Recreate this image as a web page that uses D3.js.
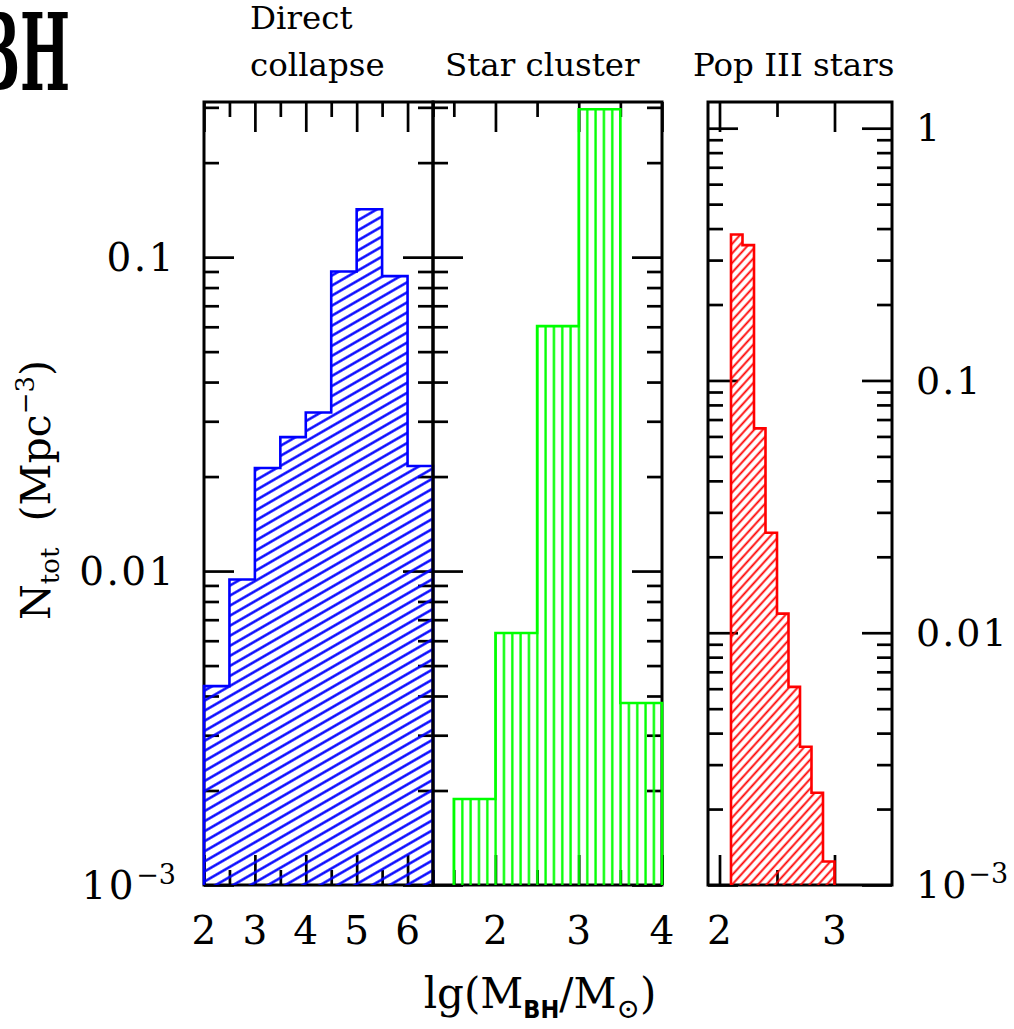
<!DOCTYPE html>
<html>
<head>
<meta charset="utf-8">
<script src="https://cdn.jsdelivr.net/npm/d3@7"></script>
<style>
  body { margin: 0; background: #fff; }
  text { font-family: "DejaVu Serif", serif; fill: #000; }
</style>
</head>
<body>
<svg id="chart" width="1014" height="1029"></svg>
<script>
// bin lower edges (lg M) and number densities (Mpc^-3)
const dcBins = [2, 2.5, 3, 3.5, 4, 4.5, 5, 5.5, 6]
const dcValues = [0.0043, 0.0094, 0.0213, 0.0267, 0.032, 0.090, 0.142, 0.087, 0.0216]
const scBins = [1.5, 2, 2.5, 3, 3.5]
const scValues = [0.00188, 0.00635, 0.0603, 0.296, 0.0038]
const p3Bins = [2.1, 2.2, 2.3, 2.4, 2.5, 2.6, 2.7, 2.8, 2.9]
const p3Values = [0.379, 0.344, 0.0646, 0.0249, 0.0119, 0.0061, 0.00353, 0.00232, 0.00124]

const panelTitles = [['Direct', 'collapse'], ['Star cluster'], ['Pop III stars']]
const leftLabels = [0.1, 0.01, 0.001]
const rightLabels = [1, 0.1, 0.01, 0.001]
const dcTickLabels = [2, 3, 4, 5, 6]
const scTickLabels = [2, 3, 4]
const p3TickLabels = [2, 3]

const svg = d3.select('#chart')
const base = 885, topY = 102
const yL = d3.scaleLog().domain([1e-3, 0.312]).range([base, topY])
const yR = d3.scaleLog().domain([1e-3, 1.27]).range([base, topY])

const defs = svg.append('defs')
const hatch = (id, color, spacing, angle, width) => {
  const p = defs.append('pattern').attr('id', id)
    .attr('patternUnits', 'userSpaceOnUse')
    .attr('width', 40).attr('height', spacing)
    .attr('patternTransform', `rotate(${angle})`)
  p.append('line')
    .attr('x1', 0).attr('x2', 40).attr('y1', spacing / 2).attr('y2', spacing / 2)
    .attr('stroke', color).attr('stroke-width', width)
}
hatch('hatch-blue', '#0000ff', 8.7, -30, 2.2)
hatch('hatch-red', '#ff0000', 6.4, -48, 2)
hatch('hatch-green', '#00ff00', 8.33, 90, 2.3)

const panels = [
  {x: d3.scaleLinear().domain([2, 6.5]).range([204, 433]), y: yL, bins: dcBins, values: dcValues,
    w: 0.5, color: '#0000ff', fill: 'hatch-blue', major: d3.range(2, 7, 1), minor: d3.range(2.5, 7, 1), labels: dcTickLabels},
  {x: d3.scaleLinear().domain([1.25, 4]).range([433, 662]), y: yL, bins: scBins, values: scValues,
    w: 0.5, color: '#00ff00', fill: 'hatch-green', major: [2, 3, 4], minor: [1.5, 2.5, 3.5], labels: scTickLabels},
  {x: d3.scaleLinear().domain([1.9, 3.5]).range([708, 892]), y: yR, bins: p3Bins, values: p3Values,
    w: 0.1, color: '#ff0000', fill: 'hatch-red', major: [2, 3], minor: [2.5], labels: p3TickLabels}
]

const isDecade = v => Math.abs(Math.log10(v) - Math.round(Math.log10(v))) < 1e-6

const tickGroup = (axis, tx, ty) => {
  const g = svg.append('g').attr('transform', `translate(${tx},${ty})`).call(axis)
  g.select('.domain').remove()
  g.selectAll('line').attr('stroke', '#000').attr('stroke-width', 2.7)
}

panels.forEach(p => {
  const [x0, x1] = p.x.range()
  const yMajor = p.y.ticks().filter(isDecade)
  const yMinor = p.y.ticks().filter(v => !isDecade(v))

  // y ticks on both sides, pointing inward
  ;[[yMajor, 30], [yMinor, 15]].forEach(([vals, len]) => {
    tickGroup(d3.axisLeft(p.y).tickValues(vals).tickSize(-len).tickFormat(''), x0, 0)
    tickGroup(d3.axisRight(p.y).tickValues(vals).tickSize(-len).tickFormat(''), x1, 0)
  })
  // x ticks top and bottom
  ;[[p.major, 30], [p.minor, 15]].forEach(([vals, len]) => {
    tickGroup(d3.axisTop(p.x).tickValues(vals).tickSize(-len).tickFormat(''), 0, topY)
    tickGroup(d3.axisBottom(p.x).tickValues(vals).tickSize(-len).tickFormat(''), 0, base)
  })

  svg.append('rect').attr('x', x0).attr('y', topY).attr('width', x1 - x0).attr('height', base - topY)
    .attr('fill', 'none').attr('stroke', '#000').attr('stroke-width', 3)

  // stepped histogram outline
  const pts = [[p.x(p.bins[0]), base]]
  p.bins.forEach((b, i) => {
    pts.push([p.x(b), p.y(p.values[i])], [p.x(b + p.w), p.y(p.values[i])])
  })
  pts.push([p.x(p.bins[p.bins.length - 1] + p.w), base])
  const line = d3.line()
  svg.append('path').attr('d', line(pts) + 'Z').attr('fill', `url(#${p.fill})`).attr('stroke', 'none')
  svg.append('path').attr('d', line(pts)).attr('fill', 'none')
    .attr('stroke', p.color).attr('stroke-width', 2.6).attr('stroke-linejoin', 'miter')

  svg.append('g').selectAll('text').data(p.labels).join('text')
    .attr('x', d => p.x(d)).attr('y', 930).attr('dy', '0.35em')
    .attr('text-anchor', 'middle').attr('font-size', 39).text(d => d)
})

// y tick labels
const yLabel = (g, v) => {
  if (v < 0.005) {
    g.append('tspan').text('10')
    g.append('tspan').attr('dy', -15).attr('font-size', 27).attr('letter-spacing', 0).text('\u22123')
  } else {
    g.text(v)
  }
}
leftLabels.forEach(v => {
  const t = svg.append('text').attr('x', 176).attr('y', yL(v)).attr('dy', '0.35em')
    .attr('text-anchor', 'end').attr('font-size', 39).attr('letter-spacing', 2.5)
  yLabel(t, v)
})
rightLabels.forEach(v => {
  const t = svg.append('text').attr('x', 916).attr('y', yR(v)).attr('dy', '0.35em')
    .attr('font-size', 38).attr('letter-spacing', 2)
  yLabel(t, v)
})

// panel titles
const titleX = [250, 445, 693]
panelTitles.forEach((lines, i) => {
  lines.forEach((s, j) => {
    svg.append('text').attr('x', titleX[i]).attr('y', 76 - (lines.length - 1 - j) * 47)
      .attr('font-size', 32.5).text(s)
  })
})

// axis titles
const yt = svg.append('text').attr('transform', 'translate(50,490) rotate(-90)')
  .attr('text-anchor', 'middle').attr('font-size', 41)
yt.append('tspan').text('N')
yt.append('tspan').attr('dy', 9).attr('font-size', 26).text('tot')
yt.append('tspan').attr('dy', -9).text('\u00a0\u00a0(Mpc')
yt.append('tspan').attr('dy', -16).attr('font-size', 26).text('\u22123')
yt.append('tspan').attr('dy', 16).text(')')

const xt = svg.append('text').attr('x', 540).attr('y', 1008)
  .attr('text-anchor', 'middle').attr('font-size', 42)
xt.append('tspan').text('lg(M')
xt.append('tspan').attr('dy', 10).attr('font-size', 25).attr('font-family', 'DejaVu Sans Condensed, DejaVu Sans').attr('font-weight', 'bold').text('BH')
xt.append('tspan').attr('dy', -10).text('/M')
xt.append('tspan').attr('dy', 10).attr('font-size', 28).text('\u2299')
xt.append('tspan').attr('dy', -10).text(')')

// cropped heading in the corner, cut by the left edge as in the source
svg.append('text').attr('transform', 'translate(70,90) scale(0.5,1)')
  .attr('text-anchor', 'end').attr('font-size', 106).attr('font-weight', 'bold')
  .text('BH')
</script>
</body>
</html>
